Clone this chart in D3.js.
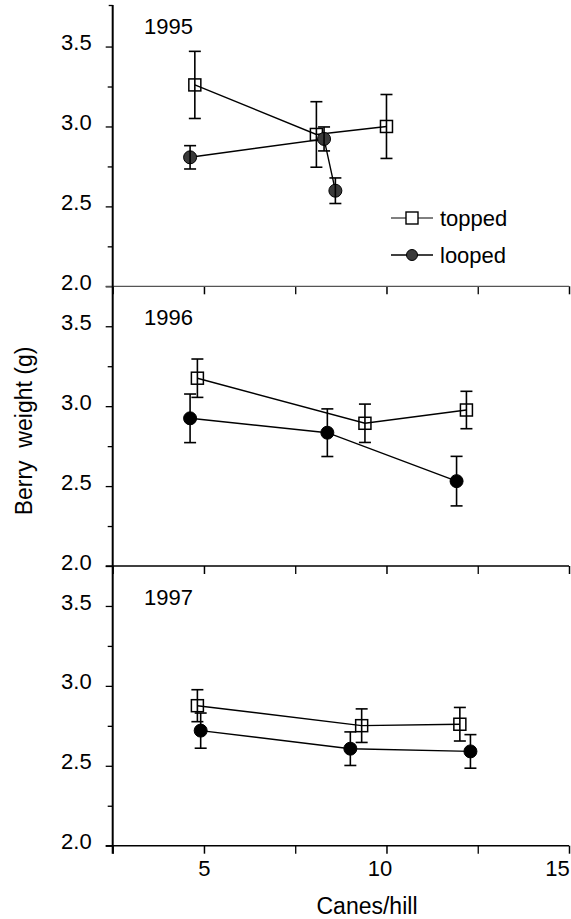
<!DOCTYPE html>
<html lang="en">
<head>
<meta charset="utf-8">
<title>Berry weight vs canes/hill</title>
<script src="https://d3js.org/d3.v7.min.js"></script>
<style>
  body { margin: 0; background: #fff; }
  svg text { font-family: "Liberation Sans", Arial, sans-serif; fill: #000; }
</style>
</head>
<body>
<div id="chart"></div>
<script>
// data, one row per year (panel)
var years = ["1995", "1996", "1997"];

var toppedX   = [[4.75, 8.08, 10.0], [4.82, 9.41, 12.19], [4.82, 9.32, 12.01]];
var toppedY   = [[3.26, 2.95, 3.0],  [3.175, 2.893, 2.976], [2.876, 2.751, 2.76]];
var toppedErr = [[0.21, 0.205, 0.2], [0.12, 0.12, 0.117], [0.1, 0.105, 0.105]];

var loopedX   = [[4.62, 8.29, 8.6],  [4.62, 8.38, 11.92], [4.91, 9.01, 12.3]];
var loopedY   = [[2.807, 2.922, 2.598], [2.924, 2.834, 2.531], [2.72, 2.607, 2.59]];
var loopedErr = [[0.073, 0.075, 0.08], [0.152, 0.149, 0.155], [0.11, 0.105, 0.105]];

var yTicks = [2.0, 2.5, 3.0, 3.5];
var yMinor = [2.25, 2.75, 3.25];
var xTicks = [5, 10, 15];
var xMinor = [2.5, 7.5, 12.5];

var W = 571, H = 919;
var panelTop = 6.6, panelH = 279.7;

var svg = d3.select("#chart").append("svg")
    .attr("width", W)
    .attr("height", H);

var x = d3.scaleLinear().domain([2.5, 15]).range([112.7, 569]);

function ser(xs, ys, es) {
  return xs.map(function(d, i) { return {x: d, y: ys[i], e: es[i]}; });
}

years.forEach(function(year, p) {
  var top = panelTop + p * panelH, bottom = top + panelH;
  var y = d3.scaleLinear().domain([2, 3.75]).range([bottom, top]);
  var g = svg.append("g");

  // y axis ticks + labels
  var ya = g.append("g")
    .attr("transform", "translate(" + x(2.5) + ",0)")
    .call(d3.axisLeft(y).tickValues(yTicks).tickFormat(d3.format(".1f")).tickSize(7).tickPadding(14));
  ya.select(".domain").remove();
  ya.selectAll("text").attr("font-size", 22).attr("dy", "0.14em");
  ya.selectAll("line").attr("stroke-width", 1.3);

  var ym = g.append("g")
    .attr("transform", "translate(" + x(2.5) + ",0)")
    .call(d3.axisLeft(y).tickValues(yMinor).tickFormat("").tickSize(5));
  ym.select(".domain").remove();
  ym.selectAll("line").attr("stroke-width", 1.3);

  // x axis
  var xa = g.append("g")
    .attr("transform", "translate(0," + bottom + ")")
    .call(d3.axisBottom(x).tickValues(xTicks).tickSize(8).tickPadding(7)
      .tickFormat(p === 2 ? d3.format("d") : ""));
  xa.select(".domain").remove();
  xa.selectAll("line").attr("stroke-width", 1.5);
  xa.selectAll("text").attr("font-size", 22)
    .attr("dx", function(d) { return d === 15 ? -12 : (d === 10 ? -7 : 0); });

  var xm = g.append("g")
    .attr("transform", "translate(0," + bottom + ")")
    .call(d3.axisBottom(x).tickValues(xMinor).tickFormat("").tickSize(8));
  xm.select(".domain").remove();
  xm.selectAll("line").attr("stroke-width", 1.3);

  g.append("line")
    .attr("x1", x(2.5) - 7).attr("x2", x(15))
    .attr("y1", bottom).attr("y2", bottom)
    .attr("stroke", p === 0 ? "#555" : "#000")
    .attr("stroke-width", p === 0 ? 1.2 : 1.6);

  // year label
  g.append("text")
    .attr("x", 144)
    .attr("y", top + (p === 0 ? 27 : 39))
    .attr("font-size", 22)
    .text(year);

  var topped = ser(toppedX[p], toppedY[p], toppedErr[p]);
  var looped = ser(loopedX[p], loopedY[p], loopedErr[p]);

  var line = d3.line().x(function(d) { return x(d.x); }).y(function(d) { return y(d.y); });

  [topped, looped].forEach(function(s) {
    g.append("path").datum(s)
      .attr("fill", "none").attr("stroke", "#000").attr("stroke-width", 1.4)
      .attr("d", line);
  });

  // markers
  g.selectAll(".sq").data(topped).enter().append("rect")
    .attr("x", function(d) { return x(d.x) - 6; })
    .attr("y", function(d) { return y(d.y) - 6; })
    .attr("width", 12).attr("height", 12)
    .attr("fill", "none").attr("stroke", "#000").attr("stroke-width", 1.5);

  g.selectAll(".ci").data(looped).enter().append("circle")
    .attr("cx", function(d) { return x(d.x); })
    .attr("cy", function(d) { return y(d.y); })
    .attr("r", 6.5)
    .attr("fill", p === 0 ? "#3a3a3a" : "#000")
    .attr("stroke", "#000").attr("stroke-width", 1);

  // error bars
  topped.concat(looped).forEach(function(d) {
    var cx = x(d.x), y1 = y(d.y + d.e), y2 = y(d.y - d.e);
    g.append("line").attr("x1", cx).attr("x2", cx).attr("y1", y1).attr("y2", y2)
      .attr("stroke", "#000").attr("stroke-width", 1.6);
    [y1, y2].forEach(function(yy) {
      g.append("line").attr("x1", cx - 6).attr("x2", cx + 6).attr("y1", yy).attr("y2", yy)
        .attr("stroke", "#000").attr("stroke-width", 1.6);
    });
  });
});

// continuous y axis line
svg.append("line")
  .attr("x1", x(2.5)).attr("x2", x(2.5))
  .attr("y1", 5).attr("y2", panelTop + 3 * panelH + 8)
  .attr("stroke", "#000").attr("stroke-width", 2);
svg.append("line")
  .attr("x1", x(2.5) - 4).attr("x2", x(2.5))
  .attr("y1", 5.5).attr("y2", 5.5)
  .attr("stroke", "#000").attr("stroke-width", 1.3);

// legend (panel 1)
var legend = svg.append("g");
legend.append("line").attr("x1", 391).attr("x2", 433).attr("y1", 218).attr("y2", 218)
  .attr("stroke", "#000").attr("stroke-width", 1);
legend.append("rect").attr("x", 406).attr("y", 212).attr("width", 12).attr("height", 12)
  .attr("fill", "#fff").attr("stroke", "#000").attr("stroke-width", 1.4);
legend.append("text").attr("x", 440).attr("y", 226).attr("font-size", 22).text("topped");

legend.append("line").attr("x1", 391).attr("x2", 433).attr("y1", 255).attr("y2", 255)
  .attr("stroke", "#000").attr("stroke-width", 1.6);
legend.append("circle").attr("cx", 412).attr("cy", 255).attr("r", 5.5)
  .attr("fill", "#3a3a3a").attr("stroke", "#000");
legend.append("text").attr("x", 440).attr("y", 263).attr("font-size", 22).text("looped");

// axis titles
svg.append("text")
  .attr("transform", "translate(32,431) rotate(-90)")
  .attr("text-anchor", "middle")
  .attr("font-size", 23)
  .attr("xml:space", "preserve")
  .style("white-space", "pre")
  .text("Berry  weight (g)");

svg.append("text")
  .attr("x", 367).attr("y", 914)
  .attr("text-anchor", "middle")
  .attr("font-size", 23)
  .text("Canes/hill");
</script>
</body>
</html>
